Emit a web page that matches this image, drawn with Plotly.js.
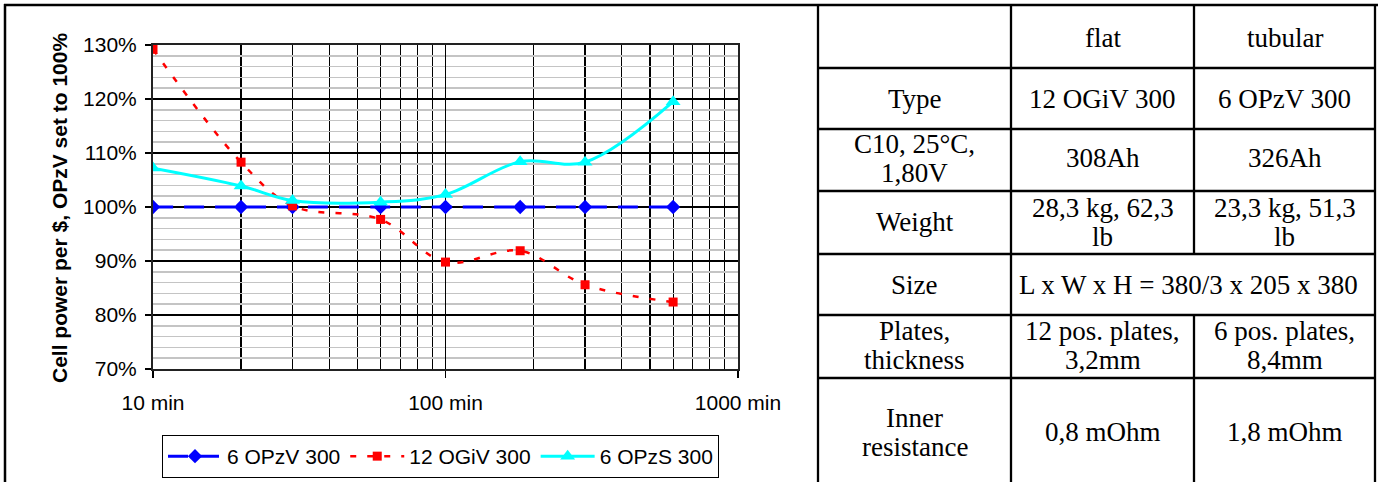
<!DOCTYPE html>
<html><head><meta charset="utf-8">
<script src="https://cdn.plot.ly/plotly-3.0.1.min.js"></script>
<style>html,body{margin:0;padding:0;background:#fff;} #chart{width:1378px;height:482px;}</style>
</head><body><div id="chart"></div>
<script>
// ---- data ----
const minutes = [10, 20, 30, 60, 100, 180, 300, 600];
const opzv = [100, 100, 100, 100, 100, 100, 100, 100];
const ogiv = [129.2, 108.3, 100.2, 97.7, 89.8, 91.9, 85.6, 82.4];
const opzs = [107.2, 103.9, 101.2, 100.9, 102.3, 108.4, 108.3, 119.5];
const seriesNames = ['6 OPzV 300', '12 OGiV 300', '6 OPzS 300'];
const xTickVals = [10, 100, 1000];
const xTickText = ['10 min', '100 min', '1000 min'];
const xMinorVals = [20, 30, 40, 50, 60, 70, 80, 90, 200, 300, 400, 500, 600, 700, 800, 900];
const yAxisTitle = 'Cell power per $, OPzV set to 100%';
const tableLabels = ['', 'Type', 'C10, 25°C,<br>1,80V', 'Weight', 'Size', 'Plates,<br>thickness', 'Inner<br>resistance'];
const tableFlat = ['flat', '12 OGiV 300', '308Ah', '28,3 kg, 62,3<br>lb', 'L x W x H = 380/3 x 205 x 380', '12 pos. plates,<br>3,2mm', '0,8 mOhm'];
const tableTubular = ['tubular', '6 OPzV 300', '326Ah', '23,3 kg, 51,3<br>lb', '', '6 pos. plates,<br>8,4mm', '1,8 mOhm'];
const mergedRow = 4; // "Size" row spans flat + tubular

// ---- layout helpers ----
const W = 1378, H = 482;
const px = x => x / W;
const py = y => 1 - y / H;
const SANS = 'Liberation Sans';
const SERIF = 'Liberation Serif';
const sansFont = (size) => ({family: SANS, size: size, color: '#000'});
const serifFont = () => ({family: SERIF, size: 27, color: '#000'});

const traces = [
  {x: minutes, y: opzv, name: seriesNames[0], type: 'scatter', mode: 'lines+markers',
   line: {color: '#0000ff', width: 3, dash: '20px,11px', shape: 'spline', smoothing: 1},
   marker: {symbol: 'diamond', size: 11, color: '#0000ff'}},
  {x: minutes, y: ogiv, name: seriesNames[1], type: 'scatter', mode: 'lines+markers',
   line: {color: '#ff0000', width: 2.5, dash: '6px,11px', shape: 'spline', smoothing: 1},
   marker: {symbol: 'square', size: 9, color: '#ff0000'}},
  {x: minutes, y: opzs, name: seriesNames[2], type: 'scatter', mode: 'lines+markers',
   line: {color: '#00ffff', width: 3, shape: 'spline', smoothing: 1},
   marker: {symbol: 'triangle-up', size: 13, color: '#00ffff'}}
];

// table geometry (pixels)
const colX = [818, 1011, 1194, 1375];
const rowY = [5, 68, 129, 191, 254, 315, 378, 486];
const textY = [38, 99, 158, 222, 285, 345, 432];
const lineGap = 29;

const shapes = [];
const lw = 2.3;
function pline(x0, y0, x1, y1, w) {
  shapes.push({type: 'line', xref: 'paper', yref: 'paper', x0: px(x0), y0: py(y0), x1: px(x1), y1: py(y1),
    line: {color: '#000', width: w || lw}});
}
// outer frame
pline(4, 5, 1378, 5, 2.5);
pline(5, 4, 5, 482, 2.5);
// table verticals
pline(colX[0], 5, colX[0], 482);
pline(colX[1], 5, colX[1], 482);
pline(colX[3], 5, colX[3], 482);
pline(colX[2], 5, colX[2], rowY[mergedRow]);
pline(colX[2], rowY[mergedRow + 1], colX[2], 482);
// table horizontals
for (let i = 1; i < rowY.length - 1; i++) pline(colX[0], rowY[i], colX[3], rowY[i]);

const annotations = [];
function cellText(txt, cx, cy) {
  if (!txt) return;
  const lines = txt.split('<br>');
  const n = lines.length;
  lines.forEach((t, k) => {
    annotations.push({text: t, xref: 'paper', yref: 'paper', x: px(cx), y: py(cy + (k - (n - 1) / 2) * lineGap),
      xanchor: 'center', yanchor: 'middle', showarrow: false, font: serifFont()});
  });
}
const colC = [(colX[0] + colX[1]) / 2, (colX[1] + colX[2]) / 2, (colX[2] + colX[3]) / 2];
for (let r = 0; r < tableLabels.length; r++) {
  cellText(tableLabels[r], colC[0], textY[r]);
  if (r === mergedRow) {
    cellText(tableFlat[r], 1188, textY[r]);
  } else {
    cellText(tableFlat[r], colC[1], textY[r]);
    cellText(tableTubular[r], colC[2], textY[r]);
  }
}
annotations.push({text: '<b>' + yAxisTitle + '</b>', xref: 'paper', yref: 'paper', x: px(59), y: py(208),
  xanchor: 'center', yanchor: 'middle', textangle: -90, showarrow: false, font: sansFont(21)});

const layout = {
  width: W, height: H,
  margin: {l: 0, r: 0, t: 0, b: 0, pad: 0},
  paper_bgcolor: '#fff', plot_bgcolor: '#fff',
  showlegend: true,
  font: sansFont(21),
  xaxis: {
    type: 'log', range: [1, 3], domain: [px(153), px(738)],
    tickmode: 'array', tickvals: xTickVals, ticktext: xTickText,
    tickfont: sansFont(21), ticks: 'outside', ticklen: 7, tickwidth: 1.5, tickcolor: '#000',
    showgrid: true, gridcolor: '#000', gridwidth: 1.2,
    minor: {tickmode: 'array', tickvals: xMinorVals, showgrid: true, gridcolor: '#000', gridwidth: 1.2, ticks: ''},
    showline: true, linecolor: '#222', linewidth: 2, mirror: true, zeroline: false,
    ticklabelstandoff: 7, fixedrange: true
  },
  yaxis: {
    range: [70, 130], domain: [py(369), py(45)],
    tickmode: 'linear', tick0: 70, dtick: 10, ticksuffix: '%',
    tickfont: sansFont(21), ticks: 'outside', ticklen: 6, tickwidth: 1.5, tickcolor: '#000',
    showgrid: true, gridcolor: '#000', gridwidth: 1.2,
    minor: {dtick: 2, showgrid: true, gridcolor: '#c4c4c4', gridwidth: 1.6, ticks: ''},
    showline: true, linecolor: '#222', linewidth: 2, mirror: true, zeroline: false,
    ticklabelstandoff: 4, fixedrange: true
  },
  legend: {
    orientation: 'h', x: px(162), y: py(435), xanchor: 'left', yanchor: 'top',
    bordercolor: '#000', borderwidth: 1, bgcolor: '#fff', font: sansFont(21),
    itemwidth: 54, traceorder: 'normal'
  },
  shapes: shapes,
  annotations: annotations
};
Plotly.newPlot('chart', traces, layout, {displayModeBar: false, staticPlot: true});
</script>
</body></html>
